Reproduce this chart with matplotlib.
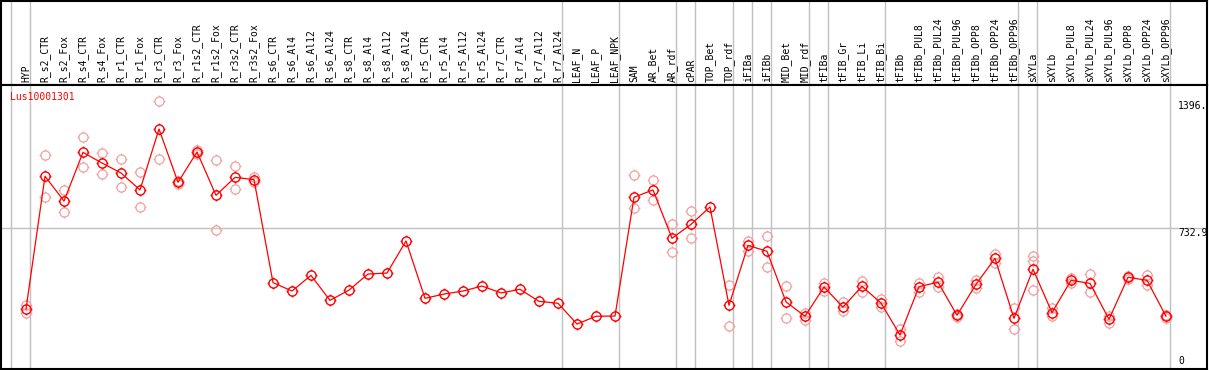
import numpy as np
import matplotlib.pyplot as plt
from matplotlib.path import Path

# sample columns, left to right
samples = ['HYP', 'R_s2_CTR', 'R_s2_Fox', 'R_s4_CTR', 'R_s4_Fox', 'R_r1_CTR', 'R_r1_Fox',
           'R_r3_CTR', 'R_r3_Fox', 'R_r1s2_CTR', 'R_r1s2_Fox', 'R_r3s2_CTR', 'R_r3s2_Fox',
           'R_s6_CTR', 'R_s6_Al4', 'R_s6_Al12', 'R_s6_Al24', 'R_s8_CTR', 'R_s8_Al4',
           'R_s8_Al12', 'R_s8_Al24', 'R_r5_CTR', 'R_r5_Al4', 'R_r5_Al12', 'R_r5_Al24',
           'R_r7_CTR', 'R_r7_Al4', 'R_r7_Al12', 'R_r7_Al24', 'LEAF_N', 'LEAF_P', 'LEAF_NPK',
           'SAM', 'AR_Bet', 'AR_rdf', 'cPAR', 'TOP_Bet', 'TOP_rdf', 'iFIBa', 'iFIBb',
           'MID_Bet', 'MID_rdf', 'tFIBa', 'tFIB_Gr', 'tFIB_Li', 'tFIB_Bi', 'tFIBb',
           'tFIBb_PUL8', 'tFIBb_PUL24', 'tFIBb_PUL96', 'tFIBb_OPP8', 'tFIBb_OPP24',
           'tFIBb_OPP96', 'sXYLa', 'sXYLb', 'sXYLb_PUL8', 'sXYLb_PUL24', 'sXYLb_PUL96',
           'sXYLb_OPP8', 'sXYLb_OPP24', 'sXYLb_OPP96']

# mean expression per sample
mean_expr = [309, 1004, 874, 1129, 1073, 1021, 932, 1251, 972, 1131, 904, 998, 986,
             447, 403, 485, 354, 408, 492, 497, 665, 365, 387, 403, 429,
             393, 412, 349, 339, 230, 271, 272,
             894, 932, 679, 752, 843, 328, 642, 611, 346, 271,
             424, 319, 428, 340, 173, 426, 449, 276, 438, 574, 260,
             517, 290, 459, 443, 255, 475, 459, 271]

# individual replicates (pale points)
replicates = [[330, 286], [1115, 894], [932, 815], [1208, 1051], [1124, 1014],
              [1093, 946], [1025, 841], [1396, 1093], [963, 979], [1120, 1141],
              [1089, 721], [1056, 937], [998, 974],
              [], [], [], [], [], [], [], [], [], [], [], [], [], [], [], [], [], [], [],
              [1010, 836], [984, 878], [752, 606], [822, 679], [], [435, 218],
              [666, 614], [691, 530], [429, 260], [290, 251],
              [443, 405], [346, 298], [455, 396], [363, 318], [203, 143],
              [447, 396], [476, 426], [283, 267], [459, 417], [598, 551], [316, 204],
              [586, 562, 410], [313, 272], [471, 445], [492, 396], [274, 234],
              [482, 466], [485, 435], [278, 262]]

# group dividers are drawn just right of these columns
divider_after = ['HYP', 'R_r7_Al24', 'LEAF_NPK', 'AR_rdf', 'cPAR', 'TOP_rdf', 'iFIBa',
                 'iFIBb', 'MID_rdf', 'tFIBa', 'tFIB_Bi', 'tFIBb_OPP96', 'sXYLa',
                 'sXYLb_OPP96']

gene = 'Lus10001301'
y_labels = ['1396.', '732.9', '0']
y_label_vals = [1396, 732.9, 0]

W, H = 1209, 370
fig = plt.figure(figsize=(W / 100, H / 100), dpi=100)
plt.rcParams['font.family'] = 'DejaVu Sans Mono'

x = np.arange(1, len(samples) + 1)
xlim = (1 + (1 - 26) / 19, 1 + (1207 - 26) / 19)
div_x = [0.23] + [samples.index(s) + 1.23 for s in divider_after]

# header with rotated sample names
hdr = fig.add_axes([1 / W, (H - 85) / H, 1206 / W, 84 / H])
hdr.set_xlim(xlim)
hdr.set_ylim(0, 1)
hdr.set_xticks([])
hdr.set_yticks([])
for s in hdr.spines.values():
    s.set_linewidth(1.5)
for xi, name in zip(x, samples):
    hdr.text(xi, 0.03, name, rotation=90, ha='center', va='bottom', fontsize=7)
for d in div_x:
    hdr.axvline(d, color='#c0c0c0', lw=1)

# main plot
ax = fig.add_axes([1 / W, 1 / H, 1206 / W, (369 - 85) / H])
ax.set_xlim(xlim)
ax.set_ylim(-5.2, 1481.5)
ax.set_xticks([])
ax.set_yticks([])
for s in ax.spines.values():
    s.set_linewidth(1.5)
for d in div_x:
    ax.axvline(d, color='#c0c0c0', lw=1, zorder=0)
ax.axhline(732.9, color='#c0c0c0', lw=1, zorder=0)

# circle marker with four small ticks (polygon circle so it stays round)
th = np.linspace(0, 2 * np.pi, 41)
cv = list(zip(np.cos(th), np.sin(th)))
cc = [Path.MOVETO] + [Path.LINETO] * 39 + [Path.CLOSEPOLY]
tk = 1.3
tv = [(0, 1), (0, tk), (0, -1), (0, -tk), (1, 0), (tk, 0), (-1, 0), (-tk, 0)]
tc = [Path.MOVETO, Path.LINETO] * 4
mk = Path(cv + tv, cc + tc)

for xi, reps in zip(x, replicates):
    if reps:
        ax.plot([xi] * len(reps), reps, linestyle='none', marker=mk, markersize=8.5,
                markerfacecolor='none', markeredgecolor='#f0a0a0', markeredgewidth=0.9)

ax.plot(x, mean_expr, color='red', lw=0.9, marker=mk, markersize=8.5,
        markerfacecolor='none', markeredgecolor='red', markeredgewidth=1.0)

ax.text(1 + (10 - 26) / 19, 1418, gene, color='red', fontsize=7, va='center', ha='left')

lab_x = 1 + (1178 - 26) / 19
for lab, v in zip(y_labels, y_label_vals):
    ax.text(lab_x, v + (0 if v > 0 else 10), lab, fontsize=7, ha='left',
            va='top' if v > 0 else 'bottom')

plt.savefig('out.png', dpi=100)
